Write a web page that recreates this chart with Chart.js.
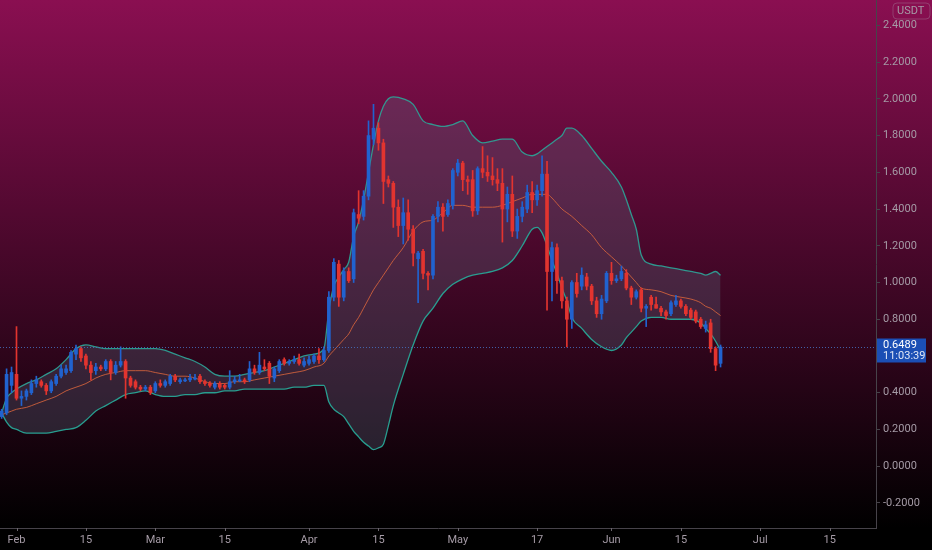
<!DOCTYPE html>
<html>
<head>
<meta charset="utf-8">
<title>USDT chart</title>
<script src="https://cdn.jsdelivr.net/npm/chart.js@4.4.1/dist/chart.umd.min.js"></script>
<style>
  html, body { margin: 0; padding: 0; background: #000; }
  #wrap { width: 932px; height: 550px; position: relative; }
</style>
</head>
<body>
<div id="wrap"><canvas id="priceChart"></canvas></div>
<script>
// day 0 = 1 Feb, one candle per day from 29 Jan (-3) to 23 Jun (142)
const firstDay = -3;
const opens  = [0.27,0.29,0.44,0.50,0.37,0.38,0.40,0.45,0.46,0.44,0.41,0.45,0.49,0.51,0.52,0.61,0.64,0.60,0.55,0.52,
  0.54,0.53,0.57,0.51,0.55,0.57,0.48,0.46,0.43,0.42,0.43,0.41,0.45,0.44,0.45,0.49,0.46,0.47,0.47,0.48,
  0.49,0.46,0.45,0.43,0.45,0.44,0.43,0.46,0.47,0.47,0.47,0.53,0.51,0.54,0.56,0.48,0.52,0.58,0.56,0.57,
  0.58,0.55,0.56,0.57,0.60,0.58,0.63,0.92,1.10,0.92,1.06,1.02,1.37,1.36,1.47,1.78,1.84,1.76,1.56,1.54,
  1.41,1.31,1.38,1.29,1.13,1.17,1.05,1.04,1.36,1.41,1.37,1.42,1.60,1.65,1.56,1.56,1.39,1.62,1.60,1.58,
  1.56,1.54,1.40,1.48,1.28,1.36,1.40,1.49,1.45,1.50,1.59,1.06,1.19,1.01,0.90,0.80,1.00,0.98,1.03,0.98,
  0.90,0.83,0.90,1.05,1.01,1.02,1.05,0.97,0.92,0.96,0.86,0.92,0.88,0.86,0.84,0.83,0.88,0.90,0.87,0.85,
  0.84,0.80,0.75,0.78,0.64,0.56];
const highs  = [0.31,0.53,0.54,0.76,0.41,0.42,0.47,0.49,0.47,0.45,0.47,0.50,0.55,0.55,0.63,0.66,0.65,0.61,0.57,0.56,
  0.55,0.58,0.58,0.57,0.65,0.58,0.49,0.47,0.44,0.44,0.44,0.46,0.47,0.47,0.50,0.50,0.48,0.48,0.50,0.50,
  0.50,0.47,0.46,0.46,0.46,0.45,0.52,0.49,0.50,0.48,0.57,0.55,0.62,0.58,0.57,0.54,0.58,0.59,0.58,0.60,
  0.61,0.59,0.60,0.61,0.64,0.65,0.95,1.13,1.12,1.08,1.08,1.40,1.50,1.50,1.88,1.97,1.87,1.78,1.58,1.55,
  1.45,1.46,1.45,1.31,1.17,1.18,1.06,1.37,1.44,1.43,1.45,1.62,1.67,1.66,1.58,1.61,1.63,1.74,1.69,1.68,
  1.62,1.62,1.52,1.58,1.40,1.44,1.53,1.55,1.53,1.69,1.66,1.22,1.21,1.03,0.92,1.01,1.05,1.08,1.05,0.99,
  0.92,0.93,1.06,1.11,1.04,1.09,1.07,0.98,0.96,0.97,0.88,0.93,0.92,0.87,0.85,0.90,0.93,0.91,0.88,0.86,
  0.85,0.81,0.79,0.80,0.65,0.66];
const lows   = [0.26,0.28,0.40,0.36,0.33,0.36,0.39,0.43,0.43,0.39,0.40,0.44,0.48,0.50,0.51,0.58,0.57,0.53,0.47,0.50,
  0.52,0.52,0.47,0.50,0.54,0.37,0.43,0.42,0.41,0.41,0.39,0.40,0.43,0.43,0.44,0.46,0.45,0.46,0.46,0.47,
  0.45,0.44,0.43,0.42,0.42,0.42,0.42,0.45,0.46,0.45,0.46,0.50,0.50,0.52,0.45,0.46,0.51,0.55,0.55,0.56,
  0.55,0.54,0.55,0.56,0.56,0.57,0.62,0.90,0.87,0.90,1.00,1.00,1.32,1.34,1.45,1.75,1.72,1.43,1.52,1.30,
  1.25,1.21,1.23,1.09,0.89,1.02,0.96,1.02,1.33,1.28,1.36,1.40,1.58,1.50,1.48,1.36,1.37,1.57,1.55,1.53,
  1.50,1.22,1.33,1.25,1.24,1.33,1.38,1.38,1.42,1.47,0.85,0.90,0.94,0.86,0.65,0.75,0.92,0.96,0.96,0.88,
  0.81,0.80,0.89,0.99,1.00,1.01,0.96,0.88,0.91,0.84,0.76,0.85,0.86,0.82,0.80,0.82,0.87,0.86,0.82,0.80,
  0.78,0.75,0.73,0.62,0.52,0.54];
const closes = [0.30,0.50,0.51,0.37,0.38,0.41,0.45,0.47,0.44,0.41,0.46,0.49,0.53,0.53,0.62,0.64,0.59,0.55,0.51,0.54,
  0.53,0.57,0.51,0.55,0.57,0.48,0.44,0.43,0.42,0.43,0.40,0.45,0.44,0.46,0.49,0.47,0.47,0.47,0.48,0.48,
  0.46,0.45,0.44,0.45,0.43,0.43,0.46,0.47,0.47,0.46,0.53,0.51,0.55,0.53,0.49,0.53,0.57,0.56,0.57,0.58,
  0.56,0.57,0.58,0.60,0.58,0.63,0.92,1.11,0.92,1.06,1.01,1.38,1.35,1.47,1.80,1.84,1.76,1.55,1.54,1.41,
  1.31,1.38,1.29,1.16,1.16,1.05,1.04,1.36,1.41,1.36,1.43,1.61,1.65,1.56,1.55,1.39,1.62,1.60,1.58,1.56,
  1.54,1.40,1.48,1.28,1.36,1.41,1.49,1.45,1.50,1.59,1.06,1.19,1.01,0.90,0.80,1.00,0.94,1.04,0.98,0.90,
  0.83,0.91,1.05,1.01,1.02,1.06,0.97,0.92,0.95,0.86,0.87,0.88,0.86,0.84,0.82,0.89,0.90,0.87,0.83,0.81,
  0.79,0.76,0.77,0.64,0.55,0.6489];

// Bollinger bands
const bandDays = [-3,-2,-1,0,2,4,6,8,10,12,14,16,18,20,22,24,26,28,30,32,34,36,38,40,42,44,46,48,50,52,54,56,58,60,62,
  63,64,65,66,67,68,69,70,71,72,73,74,75,76,78,80,82,84,86,88,90,92,94,96,98,100,102,104,105,106,107,108,109,110,111,112,
  114,116,118,120,122,123,124,125,126,128,130,132,134,136,138,139,140,141,142];
const upperBand = [0.29,0.37,0.40,0.42,0.45,0.47,0.50,0.53,0.58,0.64,0.66,0.65,0.64,0.64,0.64,0.64,0.64,0.64,0.63,0.61,0.59,0.57,0.54,0.50,0.49,0.49,0.50,0.51,0.52,0.54,0.56,0.58,0.60,0.61,0.64,
  0.85,0.98,1.03,1.07,1.11,1.25,1.33,1.45,1.60,1.75,1.88,1.96,2.00,2.01,2.00,1.97,1.88,1.86,1.85,1.86,1.88,1.80,1.76,1.77,1.78,1.78,1.71,1.69,1.70,1.72,1.74,1.76,1.78,1.80,1.84,1.84,
  1.80,1.73,1.66,1.60,1.52,1.45,1.37,1.29,1.15,1.10,1.09,1.08,1.07,1.06,1.05,1.04,1.05,1.06,1.04];
const basisBand = [0.28,0.29,0.30,0.31,0.32,0.34,0.36,0.38,0.41,0.43,0.45,0.48,0.50,0.51,0.52,0.52,0.52,0.51,0.50,0.49,0.49,0.48,0.46,0.45,0.45,0.46,0.46,0.47,0.48,0.49,0.50,0.51,0.52,0.54,0.56,
  0.60,0.63,0.66,0.69,0.72,0.77,0.81,0.86,0.91,0.96,1.00,1.04,1.08,1.12,1.19,1.28,1.33,1.34,1.38,1.42,1.42,1.41,1.41,1.41,1.42,1.44,1.46,1.48,1.48,1.48,1.48,1.46,1.43,1.40,1.38,1.36,
  1.31,1.26,1.19,1.14,1.09,1.06,1.03,1.00,0.97,0.96,0.95,0.93,0.92,0.91,0.89,0.87,0.86,0.84,0.82];
const lowerBand = [0.29,0.24,0.21,0.20,0.18,0.18,0.18,0.19,0.20,0.21,0.25,0.30,0.33,0.36,0.39,0.40,0.41,0.39,0.38,0.38,0.39,0.39,0.40,0.40,0.41,0.41,0.42,0.42,0.42,0.42,0.42,0.43,0.43,0.44,0.44,
  0.35,0.31,0.29,0.27,0.23,0.19,0.16,0.13,0.11,0.09,0.10,0.12,0.22,0.33,0.50,0.66,0.79,0.86,0.94,0.99,1.02,1.04,1.05,1.06,1.08,1.12,1.20,1.29,1.30,1.27,1.20,1.12,1.05,0.97,0.90,0.81,
  0.75,0.69,0.65,0.63,0.66,0.70,0.73,0.76,0.79,0.81,0.81,0.80,0.80,0.80,0.78,0.75,0.72,0.68,0.63];

// axis ticks
const timeTickDays = [0, 14, 28, 42, 59, 73, 89, 105, 120, 134, 150, 164];
const timeTickLabels = ['Feb', '15', 'Mar', '15', 'Apr', '15', 'May', '17', 'Jun', '15', 'Jul', '15'];
const priceTicks = [-0.2, 0, 0.2, 0.4, 0.6, 0.8, 1.0, 1.2, 1.4, 1.6, 1.8, 2.0, 2.2, 2.4];
const quoteName = 'USDT';
const timeLeft = '11:03:39';

const UP = '#2162cf';
const DOWN = '#e2342f';
const TEXT = '#a59ba6';
const LINE = '#47434a';
const FONT = 'Roboto, "Liberation Sans", sans-serif';

const wicks = [], bodies = [], candleColors = [];
for (let i = 0; i < closes.length; i++) {
    const d = firstDay + i;
    wicks.push({x: d, y: [lows[i], highs[i]]});
    bodies.push({x: d, y: [opens[i], closes[i]]});
    candleColors.push(closes[i] >= opens[i] ? UP : DOWN);
}
const pts = vals => vals.map((v, i) => ({x: bandDays[i], y: v}));

// no extra room for the end tick labels, the pane runs edge to edge
function noLabelPadding(scale) {
    scale.paddingTop = 0;
    scale.paddingBottom = 0;
    scale.paddingLeft = 0;
    scale.paddingRight = 0;
}

// background gradient + last price marker
const paneDecor = {
    id: 'paneDecor',
    beforeDraw(chart) {
        const ctx = chart.ctx;
        const area = chart.chartArea;
        ctx.save();
        ctx.fillStyle = '#000';
        ctx.fillRect(0, 0, chart.width, chart.height);
        const g = ctx.createLinearGradient(0, 0, 0, area.bottom);
        g.addColorStop(0, '#8a0f51');
        g.addColorStop(1, '#000000');
        ctx.fillStyle = g;
        ctx.fillRect(0, 0, chart.width, area.bottom);
        ctx.restore();
    },
    afterDraw(chart) {
        const ctx = chart.ctx;
        const area = chart.chartArea;
        const last = closes[closes.length - 1];
        const y = Math.round(chart.scales.y.getPixelForValue(last)) + 0.5;
        ctx.save();
        // small marks on the time axis, one per label
        ctx.strokeStyle = '#6a646c';
        ctx.lineWidth = 1;
        timeTickDays.forEach(function(d) {
            const x = Math.round(chart.scales.x.getPixelForValue(d)) + 0.5;
            ctx.beginPath();
            ctx.moveTo(x, area.bottom);
            ctx.lineTo(x, area.bottom + 3);
            ctx.stroke();
        });
        // dotted price line
        ctx.strokeStyle = 'rgba(70,110,190,0.85)';
        ctx.setLineDash([1, 2]);
        ctx.beginPath();
        ctx.moveTo(area.left, y);
        ctx.lineTo(area.right, y);
        ctx.stroke();
        ctx.setLineDash([]);
        // price box
        const bx = area.right + 1, bw = 49;
        ctx.fillStyle = '#1b4fb5';
        ctx.fillRect(bx, y - 9, bw, 24);
        ctx.fillStyle = '#ffffff';
        ctx.font = '11px ' + FONT;
        ctx.textAlign = 'left';
        ctx.textBaseline = 'middle';
        ctx.fillText(last.toFixed(4), bx + 6, y - 2);
        ctx.fillStyle = '#dfe6f5';
        ctx.fillText(timeLeft, bx + 6, y + 9);
        // currency tag
        ctx.strokeStyle = 'rgba(170,150,170,0.35)';
        ctx.beginPath();
        ctx.roundRect(area.right + 17, 3, 37, 16, 4);
        ctx.stroke();
        ctx.fillStyle = TEXT;
        ctx.fillText(quoteName, area.right + 21, 11.5);
        ctx.restore();
    }
};

const ctx = document.getElementById('priceChart');
new Chart(ctx.getContext('2d'), {
    type: 'bar',
    data: {
        datasets: [
            {
                type: 'line', data: pts(upperBand), order: 5,
                borderColor: 'rgba(40,165,150,0.95)', borderWidth: 1.3,
                pointRadius: 0, cubicInterpolationMode: 'monotone', fill: false
            },
            {
                type: 'line', data: pts(lowerBand), order: 4,
                borderColor: 'rgba(40,165,150,0.95)', borderWidth: 1.3,
                pointRadius: 0, cubicInterpolationMode: 'monotone',
                fill: '-1', backgroundColor: 'rgba(95,115,135,0.28)'
            },
            {
                type: 'line', data: pts(basisBand), order: 3,
                borderColor: 'rgba(215,100,60,0.85)', borderWidth: 1,
                pointRadius: 0, cubicInterpolationMode: 'monotone', fill: false
            },
            {
                data: wicks, order: 2, grouped: false,
                backgroundColor: candleColors, barThickness: 1
            },
            {
                data: bodies, order: 1, grouped: false,
                backgroundColor: candleColors, barThickness: 3, minBarLength: 1
            }
        ]
    },
    options: {
        responsive: true,
        maintainAspectRatio: false,
        animation: false,
        layout: { padding: 0 },
        plugins: {
            legend: { display: false },
            tooltip: { enabled: false }
        },
        scales: {
            x: {
                type: 'linear',
                offset: false,
                min: -3.328,
                max: 173.35,
                afterBuildTicks: function(scale) {
                    scale.ticks = timeTickDays.map(v => ({value: v}));
                },
                afterFit: function(scale) {
                    scale.height = 22;
                    noLabelPadding(scale);
                },
                ticks: {
                    autoSkip: false, maxRotation: 0, padding: 6,
                    color: TEXT, font: { size: 11, family: FONT },
                    callback: function(value) {
                        const i = timeTickDays.indexOf(value);
                        return i >= 0 ? timeTickLabels[i] : '';
                    }
                },
                grid: { display: false, drawOnChartArea: false, drawTicks: false },
                border: { display: true, color: LINE }
            },
            y: {
                position: 'right',
                min: -0.3364,
                max: 2.5379,
                afterBuildTicks: function(scale) {
                    scale.ticks = priceTicks.map(v => ({value: v}));
                },
                afterFit: function(scale) {
                    scale.width = 56;
                    noLabelPadding(scale);
                },
                ticks: {
                    padding: 3, crossAlign: 'near',
                    color: TEXT, font: { size: 11, family: FONT },
                    callback: function(value) { return Number(value).toFixed(4); }
                },
                grid: { drawOnChartArea: false, drawTicks: true, tickLength: 4, color: LINE },
                border: { display: true, color: LINE }
            }
        }
    },
    plugins: [paneDecor]
});
</script>
</body>
</html>
